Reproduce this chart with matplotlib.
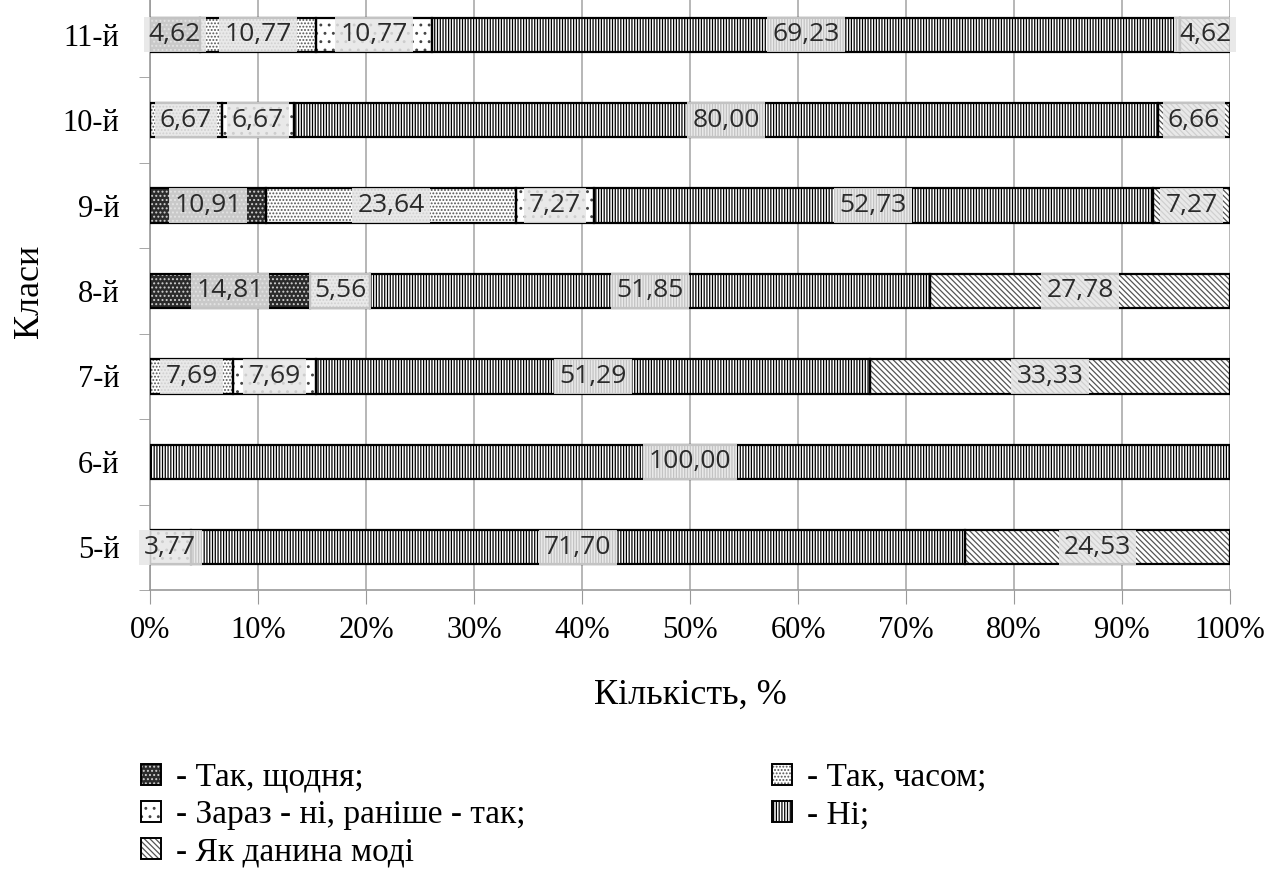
import numpy as np
import matplotlib.pyplot as plt
from matplotlib.patches import Patch
from matplotlib.legend_handler import HandlerTuple

plt.rcParams['font.family'] = 'Liberation Serif'
plt.rcParams['hatch.linewidth'] = 0.9

# відповіді учнів по класах, %
classes = ['5-й', '6-й', '7-й', '8-й', '9-й', '10-й', '11-й']
daily = [0, 0, 0, 14.81, 10.91, 0, 4.62]
sometimes = [0, 0, 7.69, 5.56, 23.64, 6.67, 10.77]
quit_now = [3.77, 0, 7.69, 0, 7.27, 6.67, 10.77]
never = [71.70, 100.00, 51.29, 51.85, 52.73, 80.00, 69.23]
fashion = [24.53, 0, 33.33, 27.78, 7.27, 6.66, 4.62]

labels = ['- Так, щодня;', '- Так, часом;', '- Зараз - ні, раніше - так;',
          '- Ні;', '- Як данина моді']
series = [daily, sometimes, quit_now, never, fashion]

# (заливка, штрих, колір штриха)
styles = [
    ('#2b2b2b', '....', '#d0d0d0'),
    ('white', '.....', '#555555'),
    ('white', '..', '#444444'),
    ('white', '||||||', '#000000'),
    ('white', '\\\\\\\\\\\\', '#555555'),
]

data = np.array(series, dtype=float)
totals = data.sum(axis=0)
shares = data / totals * 100

fig = plt.figure(figsize=(12.73, 8.8), dpi=100)
ax = fig.add_axes([150 / 1273, 1 - 590 / 880, 1080 / 1273, 598 / 880])

y = np.arange(len(classes))
left = np.zeros(len(classes))
bar_h = 0.4
for i in range(len(series)):
    fc, hatch, hc = styles[i]
    ax.barh(y, shares[i], left=left, height=bar_h, color=fc, hatch=hatch,
            edgecolor=hc, linewidth=0, zorder=2)
    ax.barh(y, shares[i], left=left, height=bar_h, fill=False,
            edgecolor='black', linewidth=1.6, zorder=3)
    for j in range(len(classes)):
        v = data[i][j]
        if v > 0:
            ax.text(left[j] + shares[i][j] / 2, y[j],
                    f'{v:.2f}'.replace('.', ','),
                    ha='center', va='center', fontsize=19, color='#2a2a2a',
                    family='Open Sans', zorder=4,
                    bbox=dict(boxstyle='square,pad=0.2', fc='#e6e6e6',
                              ec='none', alpha=0.85))
    left += shares[i]

ax.set_xlim(0, 100)
ax.set_ylim(-0.5, 6.5)
ax.set_xticks(np.arange(0, 101, 10))
ax.set_xticklabels([f'{t}%' for t in range(0, 101, 10)])
ax.set_yticks(y)
ax.set_yticklabels(classes)
ax.set_yticks(np.arange(-0.5, 6.6, 1), minor=True)
ax.tick_params(axis='x', labelsize=22, length=10, color='#999999', pad=9)
ax.tick_params(axis='y', which='major', labelsize=22, length=0, pad=22)
ax.tick_params(axis='y', which='minor', length=8, color='#999999')
ax.grid(axis='x', color='#aaaaaa', linewidth=1.2, zorder=0)
ax.set_axisbelow(True)
for s in ['top', 'right']:
    ax.spines[s].set_visible(False)
for s in ['left', 'bottom']:
    ax.spines[s].set_color('#999999')
    ax.spines[s].set_linewidth(1.2)

ax.set_xlabel('Кількість, %', fontsize=26, labelpad=24)
ax.set_ylabel('Класи', fontsize=26, labelpad=12)

# легенда у дві колонки
handles = []
for fc, hatch, hc in styles:
    handles.append((Patch(facecolor=fc, hatch=hatch, edgecolor=hc, linewidth=0),
                    Patch(fill=False, edgecolor='black', linewidth=1.4)))

leg_kw = dict(loc='upper left', frameon=False, fontsize=24, borderpad=0,
              handlelength=0.6, handleheight=0.6, handletextpad=0.45,
              labelspacing=0.2,
              handler_map={tuple: HandlerTuple(ndivide=1, pad=0)})
fig.legend([handles[0], handles[2], handles[4]],
           [labels[0], labels[2], labels[4]],
           bbox_to_anchor=(124 / 1273, 1 - 746 / 880), **leg_kw)
fig.legend([handles[1], handles[3]], [labels[1], labels[3]],
           bbox_to_anchor=(755 / 1273, 1 - 746 / 880), **leg_kw)

fig.savefig('out.png', dpi=100)
